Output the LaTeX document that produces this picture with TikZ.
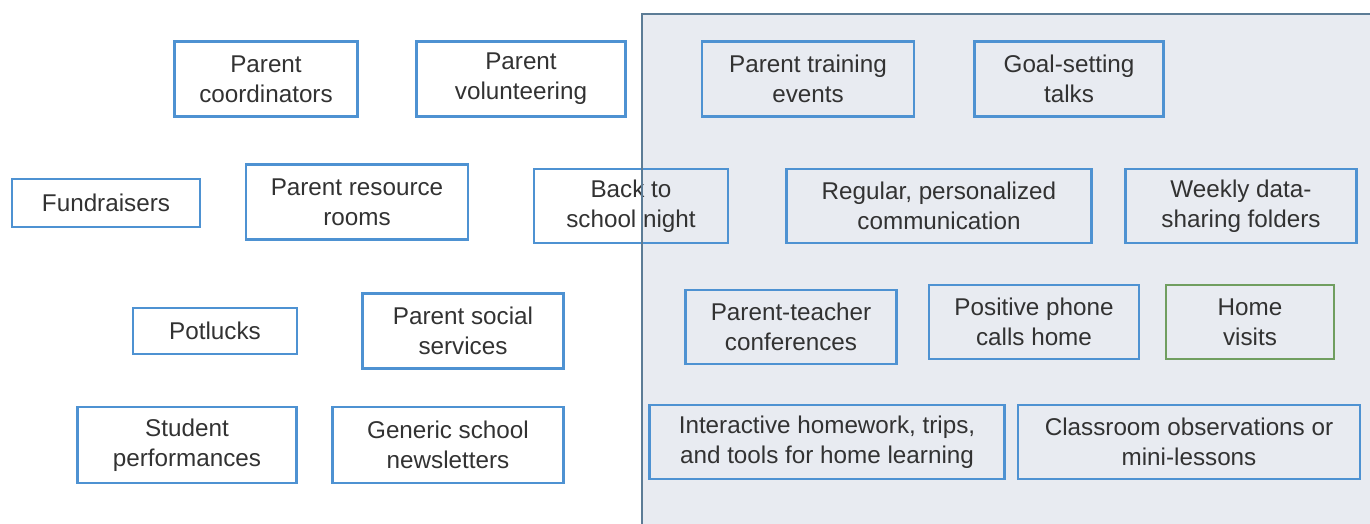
\documentclass[tikz,border=0pt]{standalone}
\usepackage{fontspec}
\setmainfont{Liberation Sans}
\usetikzlibrary{positioning}
\definecolor{boxblue}{RGB}{78,146,210}
\definecolor{zonefill}{RGB}{232,235,241}
\definecolor{zoneline}{RGB}{92,124,150}
\definecolor{homegreen}{RGB}{112,158,96}
\definecolor{inkgray}{RGB}{50,50,50}

\begin{document}
\begin{tikzpicture}[
        x=0.02cm, y=-0.02cm,
        box/.style={draw=boxblue, line width=1.6pt, align=center, inner sep=0pt,
            text=inkgray, font=\fontsize{13.8}{17}\selectfont, minimum height=1.5cm},
        greenbox/.style={box, draw=homegreen}
    ]
    \useasboundingbox (0,0) rectangle (1370,524);
    % shaded zone of the right-hand practices
    \fill[zonefill] (642,14) rectangle (1380,534);

    % top row
    \node[box, minimum width=3.66cm] (coord) at (266,79) {Parent\\coordinators};
    \node[box, minimum width=4.18cm] (volun) at (521,79) {Parent\\volunteering};
    \node[box, minimum width=4.24cm] (train) at (808,79) {Parent training\\events};
    \node[box, minimum width=3.78cm] (goal) at (1069,79) {Goal-setting\\talks};

    % second row
    \node[box, minimum width=3.76cm, minimum height=0.96cm] (fund) at (106,203) {Fundraisers};
    \node[box, minimum width=4.44cm] (rooms) at (357,202) {Parent resource\\rooms};
    \node[box, minimum width=3.88cm, minimum height=1.48cm] (back) at (631,206) {Back to\\school night};
    \node[box, minimum width=6.1cm, minimum height=1.48cm] (comm) at (939,206) {Regular, personalized\\communication};
    \node[box, minimum width=4.62cm, minimum height=1.48cm] (folders) at (1241,206) {Weekly data-\\sharing folders};

    % third row
    \node[box, minimum width=3.28cm, minimum height=0.92cm] (pot) at (215,331) {Potlucks};
    \node[box, minimum width=4.02cm] (social) at (463,331) {Parent social\\services};
    \node[box, minimum width=4.22cm, minimum height=1.48cm] (conf) at (791,327) {Parent-teacher\\conferences};
    \node[box, minimum width=4.2cm, minimum height=1.48cm] (calls) at (1034,322) {Positive phone\\calls home};
    \node[greenbox, minimum width=3.36cm, minimum height=1.48cm] (visits) at (1250,322) {Home\\visits};

    % bottom row
    \node[box, minimum width=4.38cm, minimum height=1.52cm] (perf) at (187,445) {Student\\performances};
    \node[box, minimum width=4.62cm, minimum height=1.52cm] (news) at (448,445) {Generic school\\newsletters};
    \node[box, minimum width=7.1cm, minimum height=1.48cm] (homework) at (827,442) {Interactive homework, trips,\\and tools for home learning};
    \node[box, minimum width=6.84cm, minimum height=1.48cm] (observe) at (1189,442) {Classroom observations or\\mini-lessons};

    % zone outline on top
    \draw[zoneline, line width=1.4pt] (642,534) -- (642,14) -- (1380,14);
\end{tikzpicture}
\end{document}
